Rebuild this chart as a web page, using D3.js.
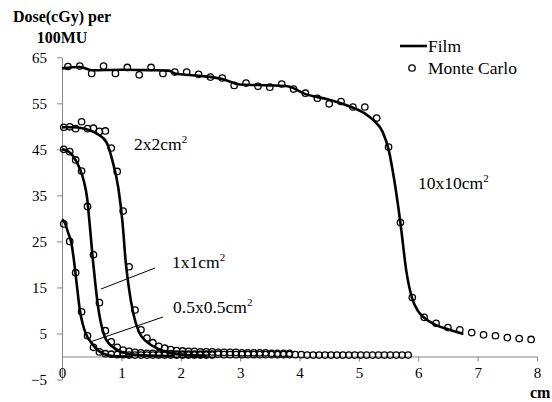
<!DOCTYPE html>
<html>
<head>
<meta charset="utf-8">
<script src="https://cdn.jsdelivr.net/npm/d3@7"></script>
<style>
  body { margin: 0; background: #fff; }
  svg text { font-family: "Liberation Serif", "Times New Roman", "DejaVu Serif", serif; }
</style>
</head>
<body>
<div id="chart"></div>
<script>
// Film measurements (x in cm, dose in cGy per 100MU)
const film10X = [0, 0.3, 0.5, 1.0, 1.5, 1.8, 1.9, 2.3, 2.7, 3.0, 3.5, 3.8, 4.1, 4.5, 4.85, 5.1, 5.25, 5.4, 5.5, 5.6, 5.7, 5.8, 5.9, 6.0, 6.1, 6.3, 6.5, 6.76];
const film10Y = [62.6, 62.9, 62.2, 62.3, 62.2, 62.1, 61.5, 61.0, 60.3, 59.1, 58.9, 58.7, 57.0, 55.8, 54.3, 52.8, 51.3, 48.8, 45.0, 38.0, 29.0, 18.5, 12.5, 9.8, 8.4, 6.8, 5.9, 4.9];
const film2X = [0, 0.2, 0.4, 0.6, 0.75, 0.85, 0.95, 1.02, 1.07, 1.12, 1.2, 1.3, 1.4, 1.5, 1.65, 1.8, 2.0, 2.45];
const film2Y = [49.8, 49.8, 49.4, 48.3, 46.5, 42.5, 36.5, 29.0, 21.0, 15.5, 9.4, 5.2, 3.5, 2.5, 1.5, 0.8, 0.4, 0.1];
const film1X = [0, 0.1, 0.2, 0.3, 0.37, 0.42, 0.47, 0.52, 0.56, 0.6, 0.65, 0.72, 0.8, 0.9, 1.0, 1.2, 1.5, 1.9];
const film1Y = [45.0, 44.6, 43.3, 40.8, 38.0, 34.7, 28.2, 21.0, 16.0, 11.5, 7.6, 4.3, 2.7, 1.7, 1.0, 0.4, 0.2, 0.1];
const film05X = [0, 0.05, 0.1, 0.16, 0.2, 0.25, 0.3, 0.35, 0.4, 0.5, 0.6, 0.7, 0.85, 1.2];
const film05Y = [29.8, 29.0, 27.0, 24.5, 21.0, 15.5, 10.1, 7.0, 5.0, 2.9, 1.4, 0.6, 0.1, 0.0];

// Monte Carlo points
const mc10X = [0.1, 0.3, 0.5, 0.7, 0.9, 1.1, 1.3, 1.5, 1.7, 1.9, 2.1, 2.3, 2.5, 2.7, 2.9, 3.1, 3.3, 3.5, 3.7, 3.9,
  4.1, 4.3, 4.5, 4.7, 4.9, 5.1, 5.3, 5.5, 5.7, 5.9, 6.1, 6.3, 6.5, 6.7, 6.9, 7.1, 7.3, 7.5, 7.7, 7.9];
const mc10Y = [63.0, 63.1, 61.5, 63.1, 61.5, 62.8, 61.2, 62.8, 61.5, 61.8, 61.8, 61.3, 60.7, 60.5, 58.9, 59.4, 58.7, 58.5, 59.2, 58.1,
  57.2, 56.1, 54.9, 55.4, 54.2, 54.2, 51.8, 45.5, 29.1, 12.8, 8.5, 7.2, 6.3, 5.8, 5.2, 4.7, 4.5, 4.1, 3.9, 3.7];
const mcX = [0.03, 0.13, 0.23, 0.33, 0.43, 0.53, 0.63, 0.73, 0.83, 0.93, 1.03, 1.13, 1.23, 1.33, 1.43, 1.53, 1.63, 1.73, 1.83, 1.93,
  2.03, 2.13, 2.23, 2.33, 2.43, 2.53, 2.63, 2.73, 2.83, 2.93, 3.03, 3.13, 3.23, 3.33, 3.43, 3.53, 3.63, 3.73, 3.83, 3.93,
  4.03, 4.13, 4.23, 4.33, 4.43, 4.53, 4.63, 4.73, 4.83, 4.93, 5.03, 5.13, 5.23, 5.33, 5.43, 5.53, 5.63, 5.73, 5.83];
const mc2Y = [49.8, 49.9, 49.5, 51.0, 49.5, 49.6, 48.9, 49.0, 45.3, 40.2, 31.6, 19.5, 10.1, 5.8, 4.0, 3.0, 2.2, 1.8, 1.5, 1.3,
  1.2, 1.1, 1.1, 1.0, 1.0, 1.0, 0.9, 0.9, 0.9, 0.9, 0.8, 0.8, 0.8, 0.8, 0.8, 0.7, 0.7, 0.7, 0.7];
const mc1Y = [45.0, 44.5, 42.7, 40.3, 32.6, 22.1, 11.7, 5.6, 3.2, 2.0, 1.4, 1.1, 0.9, 0.8, 0.7, 0.7, 0.6, 0.6, 0.6, 0.5,
  0.5, 0.5, 0.5, 0.5, 0.5, 0.5, 0.5, 0.4, 0.4, 0.4, 0.4, 0.4, 0.4, 0.4, 0.4, 0.4, 0.4, 0.4, 0.4, 0.4,
  0.4, 0.3, 0.3, 0.3, 0.3, 0.3, 0.3, 0.3, 0.3, 0.3, 0.3, 0.3, 0.3, 0.3, 0.3, 0.3, 0.3, 0.3, 0.3];
const mc05Y = [28.8, 25.0, 18.2, 9.7, 4.5, 2.0, 1.0, 0.6, 0.5, 0.4, 0.4, 0.3, 0.3, 0.3, 0.3, 0.3, 0.3, 0.3, 0.3, 0.3,
  0.3, 0.3, 0.3, 0.3, 0.3, 0.3];

const yTicks = [65, 55, 45, 35, 25, 15, 5, -5];
const xTicks = [0, 1, 2, 3, 4, 5, 6, 7, 8];

const width = 552;
const height = 402;
const serif = "'Liberation Serif', 'Times New Roman', 'DejaVu Serif', serif";

const x = d3.scaleLinear().domain([0, 8]).range([62, 537]);
const y = d3.scaleLinear().domain([-5, 65]).range([379.5, 57.3]);

const svg = d3.select("#chart")
  .append("svg")
  .attr("width", width)
  .attr("height", height);

const axisColor = "#868686";

// y axis
const yAxis = svg.append("g")
  .attr("transform", `translate(${x(0)},0)`)
  .call(d3.axisLeft(y).tickValues(yTicks).tickSize(5).tickSizeOuter(0).tickPadding(10))
  .attr("font-family", serif)
  .attr("font-size", 15);
yAxis.select(".domain").attr("stroke", axisColor);
yAxis.selectAll(".tick line").attr("stroke", axisColor);
yAxis.selectAll(".tick text").attr("fill", "#000");

// x axis at y = 0
const xAxis = svg.append("g")
  .attr("transform", `translate(0,${y(0)})`)
  .call(d3.axisBottom(x).tickValues(xTicks).tickSize(5).tickSizeOuter(0).tickPadding(6))
  .attr("font-family", serif)
  .attr("font-size", 15);
xAxis.select(".domain").attr("stroke", axisColor);
xAxis.selectAll(".tick line").attr("stroke", axisColor);
xAxis.selectAll(".tick text").attr("fill", "#000");

// film curves
const line = d3.line()
  .x(d => x(d[0]))
  .y(d => y(d[1]))
  .curve(d3.curveMonotoneX);

const films = [
  d3.zip(film10X, film10Y),
  d3.zip(film2X, film2Y),
  d3.zip(film1X, film1Y),
  d3.zip(film05X, film05Y)
];

svg.selectAll(".film")
  .data(films)
  .enter()
  .append("path")
  .attr("class", "film")
  .attr("d", line)
  .attr("fill", "none")
  .attr("stroke", "#000")
  .attr("stroke-width", 2.6);

// monte carlo markers
const mcPoints = [].concat(
  d3.zip(mc10X, mc10Y),
  d3.zip(mcX.slice(0, mc2Y.length), mc2Y),
  d3.zip(mcX.slice(0, mc1Y.length), mc1Y),
  d3.zip(mcX.slice(0, mc05Y.length), mc05Y)
);

svg.selectAll(".mc")
  .data(mcPoints)
  .enter()
  .append("circle")
  .attr("class", "mc")
  .attr("cx", d => x(d[0]))
  .attr("cy", d => y(d[1]))
  .attr("r", 3.2)
  .attr("fill", "none")
  .attr("stroke", "#000")
  .attr("stroke-width", 1.3);

// axis titles
svg.append("text")
  .attr("x", 62).attr("y", 22)
  .attr("text-anchor", "middle")
  .style("font-size", "16px").style("font-weight", "bold")
  .text("Dose(cGy) per");
svg.append("text")
  .attr("x", 62).attr("y", 43)
  .attr("text-anchor", "middle")
  .style("font-size", "16px").style("font-weight", "bold")
  .text("100MU");
svg.append("text")
  .attr("x", 530).attr("y", 398)
  .style("font-size", "16px").style("font-weight", "bold")
  .text("cm");

// legend
svg.append("line")
  .attr("x1", 400).attr("x2", 427)
  .attr("y1", 46).attr("y2", 46)
  .attr("stroke", "#000").attr("stroke-width", 2.6);
svg.append("text")
  .attr("x", 428).attr("y", 52)
  .style("font-size", "17.5px")
  .text("Film");
svg.append("circle")
  .attr("cx", 412).attr("cy", 68).attr("r", 3.2)
  .attr("fill", "none").attr("stroke", "#000").attr("stroke-width", 1.3);
svg.append("text")
  .attr("x", 428).attr("y", 74)
  .style("font-size", "17.5px")
  .text("Monte Carlo");

// field size labels
const labels = [
  { t: "2x2cm", x: 134, y: 150 },
  { t: "10x10cm", x: 418, y: 189 },
  { t: "1x1cm", x: 172, y: 268 },
  { t: "0.5x0.5cm", x: 173, y: 313 }
];
labels.forEach(l => {
  const t = svg.append("text")
    .attr("x", l.x).attr("y", l.y)
    .style("font-size", "17.5px");
  t.append("tspan").text(l.t);
  t.append("tspan").attr("dy", -7).style("font-size", "11px").text("2");
});

// leader lines
svg.append("line")
  .attr("x1", 101).attr("y1", 289).attr("x2", 155).attr("y2", 268)
  .attr("stroke", "#000").attr("stroke-width", 1);
svg.append("line")
  .attr("x1", 90).attr("y1", 342).attr("x2", 163).attr("y2", 317)
  .attr("stroke", "#000").attr("stroke-width", 1);
</script>
</body>
</html>
